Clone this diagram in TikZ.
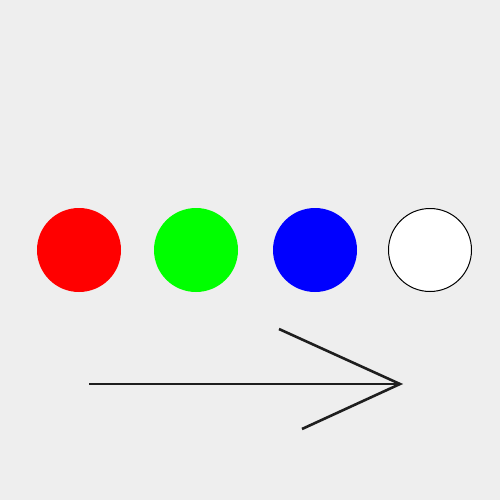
\documentclass[tikz,border=0pt]{standalone}
\definecolor{paper}{HTML}{EEEEEE}
\definecolor{ink}{HTML}{1E1E1E}
\tikzset{
  dot/.style={circle, minimum size=84pt, inner sep=0pt},
  shaft/.style={draw=ink, line width=1.8pt},
  headline/.style={draw=ink, line width=2.6pt},
}
\begin{document}
\begin{tikzpicture}[x=1pt,y=-1pt]
\fill[paper] (0,0) rectangle (500,500);
\useasboundingbox (0,0) rectangle (500,500);
\node[dot, fill={rgb,255:red,255;green,0;blue,0}] (red) at (79,250) {};
\node[dot, fill={rgb,255:red,0;green,255;blue,0}] (green) at (196,250) {};
\node[dot, fill={rgb,255:red,0;green,0;blue,255}] (blue) at (315,250) {};
\node[dot, fill=white, draw=black, line width=1pt, minimum size=83pt] (white) at (430,250) {};
\coordinate (tail) at (89,384);
\coordinate (tip) at (400,384);
\coordinate (hu) at (279,329);
\coordinate (hl) at (302,429);
\draw[shaft] (tail) -- (tip);
\draw[headline] (hu) -- (tip) -- (hl);
\end{tikzpicture}
\end{document}
